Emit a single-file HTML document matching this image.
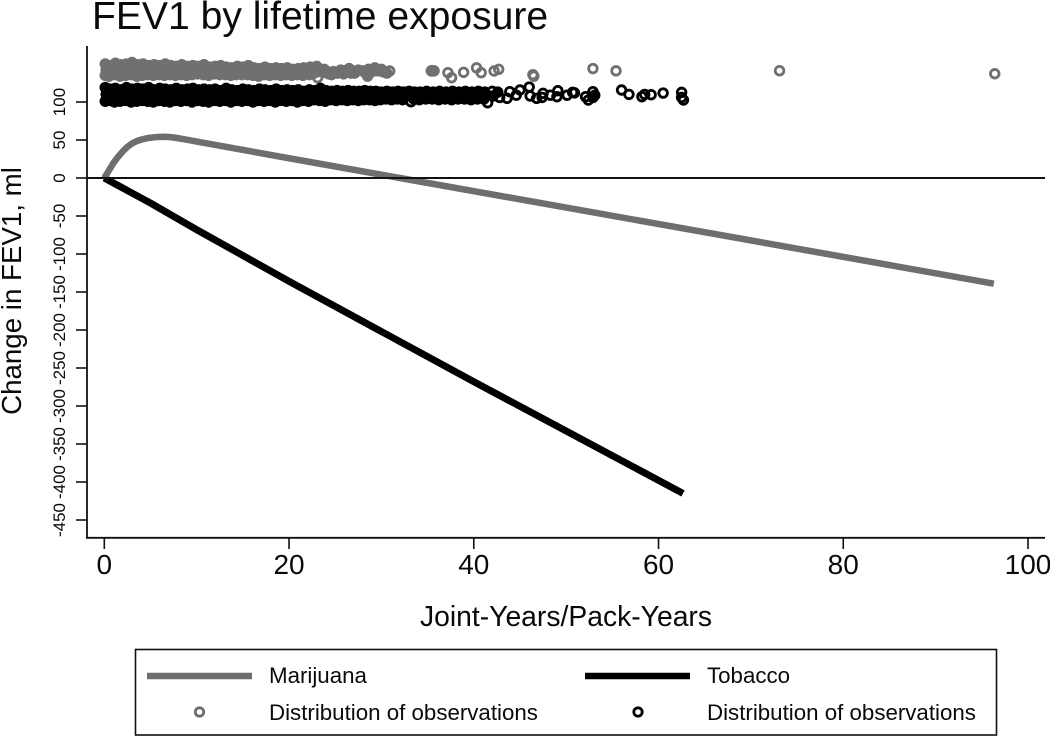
<!DOCTYPE html>
<html lang="en">
<head>
<meta charset="utf-8">
<title>FEV1 by lifetime exposure</title>
<style>
html,body{margin:0;padding:0;background:#fff;}
svg{display:block;font-family:"Liberation Sans",Arial,sans-serif;}
</style>
</head>
<body>
<svg id="chart" width="1050" height="736" viewBox="0 0 1050 736" xmlns="http://www.w3.org/2000/svg">
<rect x="0" y="0" width="1050" height="736" fill="#fff"/>
<text x="92" y="29" font-size="39.1" fill="#0a0a0a">FEV1 by lifetime exposure</text>
<text transform="translate(21,291) rotate(-90)" text-anchor="middle" font-size="27.7" fill="#0a0a0a">Change in FEV1, ml</text>
<text x="566" y="626" text-anchor="middle" font-size="28.3" fill="#0a0a0a">Joint-Years/Pack-Years</text>
<g id="observations"></g>
<g id="curves"></g>
<g id="axes"></g>
<g>
<rect x="135.5" y="649.5" width="861" height="85.5" fill="none" stroke="#111" stroke-width="1.6"/>
<line x1="147" x2="252" y1="676" y2="676" stroke="#6e6e6e" stroke-width="6.5"/>
<text x="269" y="683" font-size="22.3" fill="#0a0a0a">Marijuana</text>
<line x1="585" x2="690" y1="676" y2="676" stroke="#000" stroke-width="6.5"/>
<text x="707" y="683" font-size="22.3" fill="#0a0a0a">Tobacco</text>
<circle cx="199.5" cy="712" r="4.2" fill="none" stroke="#6e6e6e" stroke-width="2.8"/>
<text x="269" y="720" font-size="22.3" fill="#0a0a0a">Distribution of observations</text>
<circle cx="638" cy="712" r="4.2" fill="none" stroke="#000" stroke-width="2.8"/>
<text x="707" y="720" font-size="22.3" fill="#0a0a0a">Distribution of observations</text>
</g>
</svg>
<script>
var xTickValues = [0, 20, 40, 60, 80, 100];
var yTickValues = [100, 50, 0, -50, -100, -150, -200, -250, -300, -350, -400, -450];

var marijuanaCurveX = [0, 0.5, 1, 1.5, 2, 2.5, 3, 3.5, 4, 4.5, 5, 5.5, 6, 6.5, 7, 7.5, 8, 9, 10, 20, 32, 96.3];
var marijuanaCurveY = [0, 10, 20, 28, 35, 41, 45.5, 48.5, 50.5, 52, 53, 53.7, 54.1, 54.2, 54, 53.3, 52.3, 50.2, 48, 26, 0, -139];
var tobaccoCurveX = [0, 5, 10, 20, 40, 62.65];
var tobaccoCurveY = [0, -33, -68, -136, -268, -415];

var marijuanaObservations = [
[0.1,150],[0.2,142],[0.1,135],[0.6,148],[0.7,141],[0.5,134],[1.2,151],[1.3,143],[1.1,136],[1.8,149],[1.9,141],[1.7,134],
[2.4,150],[2.5,142],[2.3,135],[3.0,152],[3.1,144],[2.9,136],[3.6,149],[3.7,141],[3.5,134],[4.2,150],[4.3,143],[4.1,135],
[4.8,148],[4.9,141],[4.7,136],[5.4,149],[5.5,142],[5.3,135],[6.0,148],[6.1,141],[5.9,136],[6.6,150],[6.7,143],[6.5,135],
[7.2,148],[7.3,141],[7.1,136],[7.8,147],[7.9,142],[7.7,135],[8.4,149],[8.5,143],[8.3,136],[9.0,147],[9.1,141],[8.9,135],
[9.6,148],[9.7,142],[9.5,136],[10.2,147],[10.3,141],[10.1,137],[10.8,149],[10.9,143],[10.7,136],[11.4,146],[11.5,141],[11.3,135],
[12.0,147],[12.1,142],[11.9,137],[12.6,148],[12.7,142],[12.5,136],[13.2,146],[13.3,141],[13.1,136],[13.8,145],[13.9,140],[13.7,135],
[14.4,147],[14.5,142],[14.3,136],[15.0,146],[15.1,141],[14.9,136],[15.6,148],[15.7,142],[15.5,136],[16.2,145],[16.3,140],[16.1,135],
[16.8,144],[16.9,139],[16.7,134],[17.4,146],[17.5,141],[17.3,136],[18.0,144],[18.1,139],[17.9,135],[18.6,145],[18.7,140],[18.5,136],
[19.2,144],[19.3,139],[19.1,135],[19.8,145],[19.9,140],[19.7,136],[20.4,143],[20.5,138],[20.3,135],[21.0,144],[21.1,139],[20.9,136],
[21.6,145],[21.7,140],[21.5,135],[22.3,146],[22.4,141],[22.2,136],[23.0,147],[23.2,140],[23.1,132],[23.7,139],[23.8,143],[24.3,137],
[24.8,140],[25.2,138],[25.6,142],[25.9,137],[26.2,140],[26.5,144],[26.9,141],[27.1,138],[28.0,141],[28.5,134],[29.3,145],[30.2,139.5],[30.9,140.8],
[27.5,142],[28.2,139],[28.6,143],[29.0,140],[29.6,141],[30.0,143],[30.6,138],
[0.4,146],[0.4,138],[1.0,147],[1.0,139],[1.5,146],[1.5,138],[2.1,145],[2.1,137],[2.7,147],[2.7,139],[3.3,148],[3.3,140],[3.9,146],[3.9,138],
[4.5,146],[4.5,138],[5.1,145],[5.1,138],[5.7,145],[5.7,139],[6.3,145],[6.3,138],[6.9,146],[6.9,139],[7.5,145],[7.5,138],[8.1,145],[8.1,138],
[8.7,145],[8.7,139],[9.3,144],[9.3,138],[9.9,145],[9.9,139],[10.5,144],[10.5,139],[11.1,146],[11.1,139],[11.7,144],[11.7,138],[12.3,145],[12.3,139],
[12.9,145],[12.9,139],[13.5,143],[13.5,138],[14.1,144],[14.1,138],[14.7,144],[14.7,139],[15.3,144],[15.3,138],[15.9,144],[15.9,138],[16.5,142],[16.5,137],
[17.1,143],[17.1,138],[17.7,142],[17.7,137],[18.3,142],[18.3,137],[18.9,142],[18.9,138],[19.5,142],[19.5,137],[20.1,142],[20.1,137],[20.7,141],[20.7,137],
[21.3,142],[21.3,137],[22.0,143],[22.0,138],[22.7,143],[22.7,138],[24.0,141],[24.6,136],[25.4,140],[26.0,141],[26.7,138],
[35.4,141],[35.45,141.3],[35.5,140.7],[35.6,141],[35.7,141],[37.2,138.6],[37.6,132],[38.9,139.1],[40.3,145],[40.8,138.6],[42.2,140.8],[42.7,143],
[46.4,136],[46.5,134],[52.9,144],[55.4,141],[73.1,141.2],[96.4,137.2]
];

var tobaccoObservations = [
[0.1,119],[0.2,110],[0.1,101],[0.6,117],[0.7,108],[0.5,102],[1.2,118],[1.3,111],[1.1,100],[1.8,116],[1.9,108],[1.7,101],
[2.4,119],[2.5,110],[2.3,102],[3.0,117],[3.1,109],[2.9,100],[3.6,118],[3.7,111],[3.5,101],[4.2,117],[4.3,108],[4.1,102],
[4.8,119],[4.9,110],[4.7,101],[5.4,116],[5.5,109],[5.3,100],[6.0,118],[6.1,110],[5.9,102],[6.6,117],[6.7,108],[6.5,101],
[7.2,116],[7.3,111],[7.1,100],[7.8,118],[7.9,109],[7.7,102],[8.4,116],[8.5,108],[8.3,101],[9.0,117],[9.1,110],[8.9,102],
[9.6,118],[9.7,109],[9.5,100],[10.2,116],[10.3,108],[10.1,102],[10.8,117],[10.9,110],[10.7,101],[11.4,116],[11.5,109],[11.3,100],
[12.0,117],[12.1,108],[11.9,102],[12.6,115],[12.7,110],[12.5,101],[13.2,118],[13.3,109],[13.1,102],[13.8,116],[13.9,108],[13.7,100],
[14.4,115],[14.5,110],[14.3,102],[15.0,117],[15.1,109],[14.9,101],[15.6,116],[15.7,108],[15.5,102],[16.2,115],[16.3,110],[16.1,100],
[16.8,117],[16.9,109],[16.7,102],[17.4,116],[17.5,108],[17.3,101],[18.0,115],[18.1,110],[17.9,102],[18.6,117],[18.7,109],[18.5,100],
[19.2,115],[19.3,108],[19.1,102],[19.8,116],[19.9,110],[19.7,101],[20.4,115],[20.5,109],[20.3,102],[21.0,116],[21.1,108],[20.9,100],
[21.6,114],[21.7,109],[21.5,102],[22.2,116],[22.3,110],[22.1,101],[22.8,115],[22.9,108],[22.7,103],[23.4,118],[23.5,109],[23.3,102],
[24.0,115],[24.1,110],[23.9,101],[24.6,114],[24.7,108],[24.5,103],[25.2,115],[25.3,109],[25.1,102],[25.8,114],[25.9,108],[25.7,103],
[26.4,115],[26.5,110],[26.3,102],[27.0,114],[27.1,109],[26.9,103],[27.6,114],[27.7,108],[27.5,102],[28.2,115],[28.3,109],[28.1,103],
[28.8,114],[28.9,108],[28.7,103],[29.4,114],[29.5,109],[29.3,102],[30.0,113],[30.1,108],[29.9,103],[30.6,114],[30.7,109],[30.5,104],
[31.2,113],[31.3,108],[31.1,103],[31.8,114],[31.9,109],[31.7,104],[32.4,113],[32.5,108],[32.3,103],[33.0,114],[33.2,100.4],[33.1,108],
[33.6,113],[33.7,108],[33.5,104],[34.2,113],[34.3,109],[34.1,103],[34.9,114],[35.0,108],[34.8,104],[35.6,113],[35.7,109],[35.5,104],
[36.3,114],[36.4,108],[36.2,103],[37.0,113],[37.1,108],[36.9,104],[37.7,114],[37.8,109],[37.6,103],[38.4,113],[38.5,108],[38.3,104],
[39.1,114],[39.2,109],[39.0,104],[39.8,113],[39.9,108],[39.7,103],[40.5,114],[40.6,108],[40.4,104],[41.2,113],[41.3,109],[41.1,104],
[0.4,115],[0.4,106],[1.0,113],[1.0,105],[1.5,114],[1.5,105],[2.1,113],[2.1,106],[2.7,114],[2.7,105],[3.3,113],[3.3,105],[3.9,114],[3.9,106],
[4.5,113],[4.5,105],[5.1,114],[5.1,105],[5.7,113],[5.7,106],[6.3,113],[6.3,105],[6.9,114],[6.9,106],[7.5,113],[7.5,105],[8.1,113],[8.1,106],
[8.7,113],[8.7,106],[9.3,114],[9.3,105],[9.9,113],[9.9,105],[10.5,113],[10.5,106],[11.1,113],[11.1,105],[11.7,113],[11.7,105],[12.3,112],[12.3,105],
[12.9,114],[12.9,105],[13.5,112],[13.5,104],[14.1,113],[14.1,106],[14.7,113],[14.7,105],[15.3,112],[15.3,105],[15.9,112],[15.9,105],[16.5,113],[16.5,106],
[17.1,113],[17.1,105],[17.7,112],[17.7,105],[18.3,113],[18.3,105],[18.9,112],[18.9,105],[19.5,113],[19.5,105],[20.1,112],[20.1,105],[20.7,112],[20.7,104],
[21.3,112],[21.3,105],[21.9,113],[21.9,105],[22.5,112],[22.5,105],[23.1,113],[23.1,105],[23.7,113],[23.7,105],[24.3,112],[24.3,105],
[41.5,99],[42.0,114],[42.1,108],[42.6,113],[42.8,106],[43.6,104.8],[43.9,113.6],[44.6,109],[45,115.8],[46,119.7],[46.1,108],[46.8,104.8],
[47.4,106],[47.5,111.4],[48.3,109],[49,107],[49.1,114.9],[50.1,109],[50.7,112.7],[50.9,112],[52.1,107],[52.4,102.6],[52.9,113.6],[52.9,106],[53.1,109],
[56,115.8],[56.8,110],[58.2,107],[58.5,110],[59.2,109.6],[60.5,111.8],[62.5,112.7],[62.5,106],[62.7,102.6]
];

function sx(v) { return 104.3 + 9.237 * v; }
function sy(v) { return 178 - 0.76 * v; }

var NS = 'http://www.w3.org/2000/svg';
var axes = document.getElementById('axes');
var curves = document.getElementById('curves');
var observations = document.getElementById('observations');

function svgEl(tag, parent) {
  var el = document.createElementNS(NS, tag);
  parent.appendChild(el);
  return el;
}
function setStroke(el, color, width) {
  el.setAttribute('fill', 'none');
  el.setAttribute('stroke', color);
  el.setAttribute('stroke-width', width);
}
function setLine(el, x1, y1, x2, y2) {
  el.setAttribute('x1', x1);
  el.setAttribute('y1', y1);
  el.setAttribute('x2', x2);
  el.setAttribute('y2', y2);
}
/* Overplotted markers read as solid ink: fill a ring when enough neighbours pile onto it. */
function isOverplotted(points, p) {
  var n = 0;
  points.forEach(function (q) {
    var dx = sx(q[0]) - sx(p[0]);
    var dy = sy(q[1]) - sy(p[1]);
    if (dx * dx + dy * dy < 49) { n++; }
  });
  return n >= 4;
}

marijuanaObservations.forEach(function (p) {
  var c = svgEl('circle', observations);
  
  
  c.setAttribute('cx', sx(p[0]));
  c.setAttribute('cy', sy(p[1]));
  c.setAttribute('r', 4.3);
  setStroke(c, '#707070', 2.8);
  if (isOverplotted(marijuanaObservations, p)) { c.setAttribute('fill', '#707070'); }
});
tobaccoObservations.forEach(function (p) {
  var c = svgEl('circle', observations);
  
  
  c.setAttribute('cx', sx(p[0]));
  c.setAttribute('cy', sy(p[1]));
  c.setAttribute('r', 4.3);
  setStroke(c, '#000', 2.8);
  if (isOverplotted(tobaccoObservations, p)) { c.setAttribute('fill', '#000'); }
});

function curvePoints(xs, ys) {
  return xs.map(function (x, i) { return sx(x) + ',' + sy(ys[i]); }).join(' ');
}

var zeroLine = svgEl('line', axes);


setLine(zeroLine, 87, sy(0), 1045, sy(0));
setStroke(zeroLine, '#111', 2);

var tobaccoLine = svgEl('polyline', curves);


tobaccoLine.setAttribute('points', curvePoints(tobaccoCurveX, tobaccoCurveY));
setStroke(tobaccoLine, '#000', 7);
tobaccoLine.setAttribute('stroke-linejoin', 'round');

var marijuanaLine = svgEl('polyline', curves);


marijuanaLine.setAttribute('points', curvePoints(marijuanaCurveX, marijuanaCurveY));
setStroke(marijuanaLine, '#6e6e6e', 6.5);
marijuanaLine.setAttribute('stroke-linejoin', 'round');

var ySpine = svgEl('line', axes);


setLine(ySpine, 87, 46, 87, 538.5);
setStroke(ySpine, '#111', 1.8);

var xSpine = svgEl('line', axes);


setLine(xSpine, 86, 537.8, 1045, 537.8);
setStroke(xSpine, '#111', 1.8);

xTickValues.forEach(function (v) {
  var t = svgEl('line', axes);
  
  
  setLine(t, sx(v), 538, sx(v), 549);
  setStroke(t, '#111', 1.6);
  var l = svgEl('text', axes);
  
  
  l.setAttribute('x', sx(v));
  l.setAttribute('y', 574);
  l.setAttribute('text-anchor', 'middle');
  l.setAttribute('font-size', 28);
  l.setAttribute('fill', '#0a0a0a');
  l.textContent = String(v);
});

yTickValues.forEach(function (v) {
  var t = svgEl('line', axes);
  
  
  setLine(t, 76, sy(v), 87, sy(v));
  setStroke(t, '#111', 1.6);
  var l = svgEl('text', axes);
  
  
  l.setAttribute('transform', 'translate(65,' + sy(v) + ') rotate(-90)');
  l.setAttribute('text-anchor', 'middle');
  l.setAttribute('font-size', 17);
  l.setAttribute('fill', '#0a0a0a');
  l.textContent = String(v);
});
</script>
</body>
</html>
